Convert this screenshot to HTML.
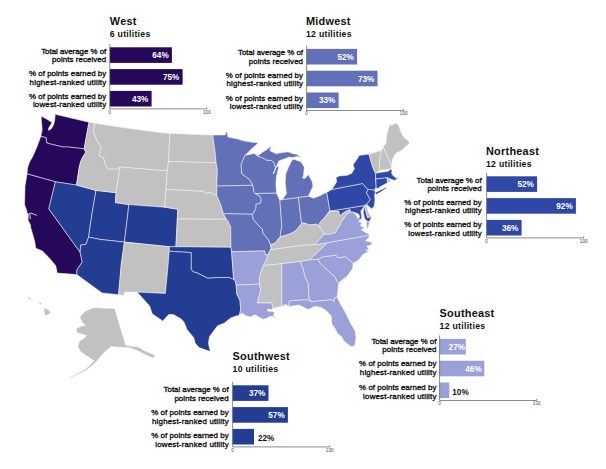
<!DOCTYPE html>
<html><head><meta charset="utf-8"><style>
html,body{margin:0;padding:0;background:#fff;}
body{width:606px;height:469px;overflow:hidden;position:relative;}
svg{position:absolute;left:0;top:0;}
text{font-family:"Liberation Sans",sans-serif;}
.t{font-weight:bold;font-size:10.9px;fill:#111;letter-spacing:0.25px;}
.s{font-weight:bold;font-size:8.7px;fill:#111;letter-spacing:0.28px;}
.l{font-weight:normal;font-size:7.9px;fill:#111;stroke:#111;stroke-width:0.34px;text-anchor:end;}
.v{font-weight:bold;font-size:8.2px;fill:#fff;text-anchor:end;}
.vo{font-weight:bold;font-size:8.2px;fill:#111;}
.a{font-size:4.6px;fill:#444;text-anchor:middle;}
</style></head><body>
<svg width="606" height="469" viewBox="0 0 606 469">

<g stroke="#f4f4f4" stroke-width="0.55" stroke-linejoin="round">
<polygon fill="#26085a" points="41.1,116.1 47.0,119.3 52.0,122.5 50.5,125.0 48.5,128.5 48.6,130.5 51.5,128.6 53.6,124.9 54.6,120.7 55.2,115.3 54.1,114.0 89.0,122.2 85.5,141.0 84.2,148.8 68.6,147.0 63.3,147.0 52.7,144.6 46.8,143.0 46.1,137.7 40.8,136.4 42.2,129.8 41.5,121.9"/>
<polygon fill="#26085a" points="40.8,136.4 46.1,137.7 46.8,143.0 52.7,144.6 63.3,147.0 68.6,147.0 84.2,148.8 85.7,152.2 81.8,158.8 80.4,162.6 79.1,167.9 76.5,185.1 55.4,181.8 27.0,173.9 27.6,167.9 29.5,162.0 32.5,157.0 36.9,147.0"/>
<polygon fill="#26085a" points="27.0,173.9 55.4,181.8 48.8,208.8 80.1,252.2 82.2,261.9 77.0,269.8 76.8,274.5 57.2,273.1 55.8,265.8 49.2,257.9 42.4,250.9 35.8,248.3 34.5,240.4 30.6,227.2 30.5,225.0 28.0,219.9 28.4,215.7 27.5,213.5 26.3,209.3 24.6,205.0 25.0,186.4"/>
<polygon fill="#233d92" points="55.4,181.8 76.5,185.1 96.0,190.4 92.6,210.0 90.3,225.0 88.6,237.1 86.0,244.3 80.7,245.0 80.1,252.2 48.8,208.8"/>
<polygon fill="#233d92" points="96.0,190.4 116.0,192.7 115.4,202.6 128.8,204.6 127.7,215.0 124.4,242.1 100.0,239.4 88.6,237.1 90.3,225.0 92.6,210.0"/>
<polygon fill="#233d92" points="88.6,237.1 100.0,239.4 124.4,242.1 121.2,265.0 118.6,294.7 102.0,292.9 76.8,274.5 77.0,269.8 82.2,261.9 80.1,252.2 80.7,245.0 86.0,244.3"/>
<polygon fill="#c1c1c1" points="89.0,122.2 94.9,123.2 93.6,131.8 96.9,140.4 101.5,147.0 98.9,155.6 103.5,157.5 105.5,165.0 108.1,169.0 117.3,169.0 120.0,167.0 116.0,192.7 96.0,190.4 76.5,185.1 79.1,167.9 80.4,162.6 81.8,158.8 85.7,152.2 84.2,148.8 85.5,141.0"/>
<polygon fill="#c1c1c1" points="94.9,123.2 124.6,127.8 144.4,130.5 160.0,132.5 169.9,133.4 168.6,161.5 167.3,170.3 165.0,170.8 120.0,167.0 117.3,169.0 108.1,169.0 105.5,165.0 103.5,157.5 98.9,155.6 101.5,147.0 96.9,140.4 93.6,131.8"/>
<polygon fill="#c1c1c1" points="120.0,167.0 165.0,170.8 167.3,170.3 166.0,189.4 164.6,207.2 128.8,204.6 115.4,202.6 116.0,192.7"/>
<polygon fill="#233d92" points="128.8,204.6 164.6,207.2 177.8,209.2 177.3,219.0 175.9,246.7 169.3,246.7 124.4,242.1 127.7,215.0"/>
<polygon fill="#c1c1c1" points="124.4,242.1 169.3,246.7 169.3,250.6 168.1,265.0 165.4,293.4 137.1,292.1 124.5,292.1 123.9,295.4 118.6,294.7 121.2,265.0"/>
<polygon fill="#c1c1c1" points="169.9,133.4 212.8,135.1 215.4,154.2 216.1,162.8 168.6,161.5"/>
<polygon fill="#c1c1c1" points="168.6,161.5 216.1,162.8 217.4,169.0 216.8,186.1 216.8,195.4 210.2,192.5 206.2,193.4 203.6,191.4 166.0,189.4 167.3,170.3"/>
<polygon fill="#c1c1c1" points="166.0,189.4 203.6,191.4 206.2,193.4 210.2,192.5 216.8,195.4 220.7,204.6 223.4,213.8 226.5,219.3 177.3,219.0 177.8,209.2 164.6,207.2"/>
<polygon fill="#c1c1c1" points="177.3,219.0 226.5,219.3 228.1,221.0 230.7,226.9 230.9,240.0 231.0,247.3 175.9,246.7"/>
<polygon fill="#233d92" points="169.3,246.7 175.9,246.7 231.0,247.3 231.6,251.8 233.6,278.8 234.8,279.8 228.8,277.5 219.6,277.5 207.7,278.2 197.2,272.9 193.1,271.8 191.1,269.1 191.1,252.6 170.0,251.3 169.3,250.6"/>
<polygon fill="#233d92" points="169.3,250.6 170.0,251.3 191.1,252.6 191.1,269.1 193.1,271.8 197.2,272.9 207.7,278.2 219.6,277.5 228.8,277.5 234.8,279.8 236.2,285.2 236.8,294.0 240.0,300.6 240.7,309.9 239.4,315.2 236.0,315.9 230.7,317.9 224.1,323.2 217.5,325.8 213.6,331.1 209.6,336.4 208.3,343.0 210.3,351.6 199.0,347.6 195.1,343.0 193.8,337.7 187.2,329.8 184.0,322.0 181.3,319.1 173.4,314.5 168.7,314.5 162.8,321.1 152.2,313.8 149.6,305.9 137.1,292.1 165.4,293.4 168.1,265.0"/>
<polygon fill="#6270b7" points="212.8,135.1 225.3,134.9 225.9,132.3 227.3,132.3 227.9,136.9 237.2,138.9 243.8,140.8 251.7,142.2 258.3,142.8 251.7,148.8 245.1,155.4 244.4,156.7 241.1,164.6 241.8,173.8 249.0,179.1 250.1,180.0 252.7,185.3 225.0,185.9 216.8,186.1 217.4,169.0 216.1,162.8 215.4,154.2"/>
<polygon fill="#6270b7" points="245.1,155.4 254.3,153.4 257.6,156.0 264.9,158.7 266.0,160.1 271.3,160.3 274.0,162.5 274.8,165.7 275.6,167.3 276.7,165.7 278.8,167.8 277.7,171.0 276.7,175.3 276.1,180.0 275.9,184.3 276.5,193.2 255.0,193.5 254.0,192.5 252.7,185.3 250.1,180.0 249.0,179.1 241.8,173.8 241.1,164.6 244.4,156.7"/>
<polygon fill="#6270b7" points="257.6,156.0 262.0,152.5 266.7,149.8 271.3,145.8 269.8,150.6 275.9,153.8 281.0,152.8 287.8,151.8 293.1,153.8 297.0,154.4 300.3,157.1 297.0,156.6 291.8,157.5 288.9,157.1 286.3,158.2 282.0,159.8 278.8,160.9 276.7,165.7 275.6,167.3 274.8,165.7 274.0,162.5 271.3,160.3 266.0,160.1 264.9,158.7"/>
<polygon fill="#6270b7" points="216.8,186.1 225.0,185.9 252.7,185.3 254.0,192.5 255.0,193.5 259.3,195.8 261.3,199.1 260.6,203.1 256.0,204.4 256.0,208.4 253.4,213.0 252.1,214.3 225.0,213.7 223.4,213.8 220.7,204.6 216.8,195.4"/>
<polygon fill="#6270b7" points="223.4,213.8 225.0,213.7 252.1,214.3 253.4,219.6 259.3,226.2 262.6,229.5 263.0,233.0 268.6,240.0 270.5,244.5 271.2,248.5 270.5,249.8 268.0,254.5 265.3,255.1 264.6,250.9 231.6,251.8 231.0,247.3 230.9,240.0 230.7,226.9 228.1,221.0 226.5,219.3"/>
<polygon fill="#6270b7" points="255.0,193.5 276.5,193.2 277.3,195.0 279.9,200.3 281.8,226.2 280.4,234.1 280.4,236.8 279.1,237.9 277.1,240.6 275.2,243.2 271.2,244.5 270.5,244.5 268.6,240.0 263.0,233.0 262.6,229.5 259.3,226.2 253.4,219.6 252.1,214.3 253.4,213.0 256.0,208.4 256.0,204.4 260.6,203.1 261.3,199.1 259.3,195.8"/>
<polygon fill="#6270b7" points="279.9,200.3 282.5,199.5 298.4,197.5 301.6,223.6 296.3,230.2 291.0,233.5 285.7,235.4 280.4,236.8 280.4,234.1 281.8,226.2"/>
<polygon fill="#6270b7" points="282.5,199.5 286.5,193.6 285.2,183.0 285.8,173.8 288.5,167.2 291.8,160.6 293.8,159.2 301.0,161.9 304.3,167.2 303.5,175.5 302.5,178.0 305.0,178.5 308.3,174.4 312.2,181.7 312.9,186.3 309.6,193.6 308.3,196.2 298.4,197.5"/>
<polygon fill="#6270b7" points="298.4,197.5 308.3,196.2 313.6,198.2 320.2,195.5 326.8,192.2 329.9,210.7 329.5,211.1 324.4,217.9 321.0,221.3 318.4,225.6 316.1,224.2 309.5,224.9 303.6,222.9 301.6,223.6"/>
<polygon fill="#c1c1c1" points="270.5,244.5 271.2,244.5 275.2,243.2 277.1,240.6 279.1,237.9 280.4,236.8 285.7,235.4 291.0,233.5 296.3,230.2 301.6,223.6 303.6,222.9 309.5,224.9 316.1,224.2 318.4,225.6 321.5,229.5 324.4,234.1 316.1,243.4 314.8,244.7 305.0,245.2 293.6,246.5 280.4,248.5 270.5,249.8 271.2,248.5"/>
<polygon fill="#c1c1c1" points="270.5,249.8 280.4,248.5 293.6,246.5 305.0,245.2 314.8,244.7 327.3,242.7 321.4,248.7 312.2,257.2 309.5,259.9 300.3,261.5 281.8,263.7 263.3,265.6 265.9,260.4 268.0,254.5"/>
<polygon fill="#9aa0d8" points="231.6,251.8 264.6,250.9 265.3,255.1 268.0,254.5 265.9,260.4 263.3,265.6 260.6,273.6 259.3,278.8 259.6,284.1 236.2,285.2 234.8,279.8 233.6,278.8"/>
<polygon fill="#9aa0d8" points="236.2,285.2 259.6,284.1 260.7,290.6 257.3,302.8 271.8,302.8 273.0,308.6 272.6,308.6 271.8,309.4 268.0,309.0 267.2,311.1 272.6,311.5 274.7,312.7 273.4,315.6 277.1,319.3 273.0,316.5 269.7,316.5 267.2,318.1 263.1,319.3 259.0,316.9 254.9,314.8 250.7,316.9 245.0,315.6 243.3,313.6 240.0,314.0 239.4,315.2 240.7,309.9 240.0,300.6 236.8,294.0"/>
<polygon fill="#c1c1c1" points="263.3,265.6 281.8,263.7 281.9,306.4 278.0,307.0 275.5,307.4 273.0,308.6 271.8,302.8 257.3,302.8 260.7,290.6 259.6,284.1 259.3,278.8 260.6,273.6"/>
<polygon fill="#9aa0d8" points="281.8,263.7 300.3,261.5 303.6,270.0 304.9,276.6 308.2,283.2 308.9,297.7 311.5,301.7 307.6,299.8 295.0,300.4 289.1,301.1 289.1,306.4 285.2,304.4 281.9,306.4"/>
<polygon fill="#9aa0d8" points="300.3,261.5 309.5,259.9 318.1,259.2 320.1,263.2 327.3,270.0 334.6,276.6 338.6,283.2 337.9,289.8 337.2,297.1 334.6,297.7 333.9,301.7 332.0,299.7 311.5,301.7 308.9,297.7 308.2,283.2 304.9,276.6 303.6,270.0"/>
<polygon fill="#9aa0d8" points="289.1,301.1 295.0,300.4 307.6,299.8 311.5,301.7 332.0,299.7 333.9,301.7 334.6,297.7 337.2,297.1 339.9,303.0 345.2,312.2 346.6,315.0 349.1,320.2 351.6,324.9 355.0,330.8 356.0,337.8 354.6,345.7 351.6,346.7 348.6,344.7 343.7,340.7 341.7,336.8 337.7,333.8 334.8,327.9 331.8,323.9 331.3,316.0 326.7,310.9 321.4,307.6 314.8,306.3 308.2,309.6 300.3,305.6 298.4,305.1 289.1,306.4"/>
<polygon fill="#9aa0d8" points="318.1,259.2 323.4,256.6 335.9,255.3 338.6,257.9 345.2,256.6 353.1,263.2 352.6,268.4 350.2,271.9 346.7,276.6 342.5,279.6 338.6,283.2 334.6,276.6 327.3,270.0 320.1,263.2"/>
<polygon fill="#9aa0d8" points="309.5,259.9 312.2,257.2 321.4,248.7 327.3,242.7 367.6,235.5 369.6,236.7 365.5,240.8 372.5,242.6 370.2,245.5 366.7,246.1 369.0,249.6 365.5,250.2 369.0,251.4 363.1,254.3 358.4,260.2 353.1,263.2 345.2,256.6 338.6,257.9 335.9,255.3 323.4,256.6 318.1,259.2"/>
<polygon fill="#9aa0d8" points="324.4,234.1 330.4,234.1 335.5,232.4 337.2,229.0 339.7,225.6 341.4,221.3 343.1,219.6 344.9,216.2 347.4,213.6 350.8,212.0 353.5,212.3 357.0,216.5 357.8,218.3 361.2,219.6 358.6,221.3 362.0,223.0 360.3,225.6 364.6,228.1 361.2,229.8 365.5,232.4 368.9,234.1 369.5,235.4 367.6,235.5 327.3,242.7 314.8,244.7 316.1,243.4"/>
<polygon fill="#c1c1c1" points="318.4,225.6 321.0,221.3 324.4,217.9 329.5,211.1 338.9,211.1 339.7,215.8 343.1,212.8 347.4,210.2 350.0,209.4 350.8,212.0 347.4,213.6 344.9,216.2 343.1,219.6 341.4,221.3 339.7,225.6 337.2,229.0 335.5,232.4 330.4,234.1 324.4,234.1 321.5,229.5"/>
<polygon fill="#2f48a6" points="333.5,210.5 364.6,205.5 363.5,207.5 360.8,211.1 361.6,216.2 361.2,219.6 357.8,218.3 359.9,217.0 358.6,214.1 353.5,212.0 350.8,212.0 350.0,209.4 347.4,210.2 343.1,212.8 339.7,215.8 338.9,211.1 329.9,211.1"/>
<polygon fill="#2f48a6" points="364.3,206.5 364.8,207.0 367.5,217.6 371.5,216.6 369.5,221.6 366.5,221.0 364.5,218.0 363.2,212.5"/>
<polygon fill="#9aa0d8" points="366.5,221.0 369.5,221.6 368.2,227.5 366.8,228.8"/>
<polygon fill="#c1c1c1" points="364.6,205.5 366.5,204.3 368.5,212.7 371.5,216.6 367.5,217.6 364.8,207.0"/>
<polygon fill="#2f48a6" points="326.8,192.2 331.9,189.4 362.6,183.5 366.5,187.9 368.0,189.4 366.5,192.9 370.5,199.8 366.5,204.3 364.6,205.5 333.5,210.5 329.9,210.7"/>
<polygon fill="#2f48a6" points="368.0,189.4 374.5,189.9 375.4,193.0 374.5,194.9 375.0,199.8 374.0,206.7 371.5,208.7 366.5,204.3 370.5,199.8 366.5,192.9"/>
<polygon fill="#2f48a6" points="331.9,189.4 336.7,181.7 336.0,177.7 339.2,175.9 347.2,175.3 351.8,173.3 354.4,168.7 353.1,164.7 357.7,158.1 359.0,155.5 368.9,154.1 372.2,165.4 374.2,170.6 375.5,173.3 375.5,178.6 376.2,187.1 374.9,189.1 374.5,189.9 368.0,189.4 366.5,187.9 362.6,183.5"/>
<polygon fill="#2f48a6" points="375.3,192.6 380.0,190.3 385.6,187.6 386.8,188.0 381.0,191.8 376.2,194.6"/>
<polygon fill="#c1c1c1" points="368.9,154.1 381.5,150.5 380.8,154.8 379.5,161.4 379.5,170.6 375.5,173.3 374.2,170.6 372.2,165.4"/>
<polygon fill="#c1c1c1" points="381.5,150.5 383.3,146.7 386.8,154.8 390.1,162.7 391.4,168.0 390.7,168.7 379.5,170.6 379.5,161.4 380.8,154.8"/>
<polygon fill="#c1c1c1" points="383.3,146.7 386.2,142.7 386.7,134.8 388.7,127.9 389.7,123.9 391.7,125.4 395.6,122.9 398.6,124.9 401.6,133.8 404.6,138.3 408.5,140.7 409.5,143.7 406.5,145.7 403.6,148.7 399.6,151.6 396.6,152.6 393.7,156.6 392.2,160.0 391.4,168.0 390.1,162.7 386.8,154.8"/>
<polygon fill="#2f48a6" points="375.5,173.3 379.5,172.6 388.5,171.2 391.0,168.7 392.0,170.8 391.5,172.8 392.6,175.3 396.3,178.2 398.8,177.0 397.5,178.8 394.0,180.4 393.0,179.9 390.5,179.0 387.2,177.8 375.7,179.0"/>
<polygon fill="#2f48a6" points="375.7,179.0 387.2,177.8 387.6,182.7 382.3,185.6 376.9,188.9 376.2,187.5"/>
<polygon fill="#c1c1c1" points="387.2,177.8 390.5,179.0 390.1,181.9 387.6,182.7"/>
<polygon fill="#c1c1c1" points="85.6,311.1 93.3,307.7 114.6,308.5 125.7,345.2 130.0,346.1 138.5,346.9 145.3,351.2 155.6,355.5 153.0,358.0 145.3,354.6 136.8,350.3 128.3,347.5 116.3,347.0 111.2,346.5 107.8,349.5 104.5,352.0 101.0,356.0 96.5,361.4 91.0,366.6 85.6,370.5 77.1,374.7 68.5,378.8 68.3,378.2 77.0,373.8 85.0,369.3 90.0,365.3 94.0,360.5 92.0,359.5 88.2,356.8 85.6,355.2 80.5,351.5 77.9,346.3 79.6,341.0 83.9,338.4 86.5,335.5 77.1,332.8 76.2,328.5 82.2,326.0 85.6,325.6 82.2,322.2 79.6,317.1"/>
<polygon fill="#c1c1c1" points="44.4,307.8 48.4,309.8 51.0,312.5 47.1,315.1 45.1,315.8 44.1,311.8"/>
<polygon fill="#c1c1c1" points="28.3,297.0 29.8,297.5 30.8,299.3 29.5,299.6 28.2,298.5"/>
<polygon fill="#c1c1c1" points="38.2,301.7 40.5,302.5 42.0,303.9 40.5,304.3 38.8,303.0"/>
</g>
<g fill="none" stroke="#fff" stroke-width="0.8" stroke-linecap="round"><polyline points="28.2,214.5 30.3,213 33,213.8 36.3,215.3"/><polyline points="29.8,213.8 30.3,218.8"/><polyline stroke-width="1.1" points="276,167.2 274.8,170.5 273.4,173.4"/></g>
<text class="t" x="109.8" y="24.7">West</text>
<text class="s" x="109.8" y="36.6">6 utilities</text>
<rect x="109.8" y="47.3" width="62.1" height="15.6" fill="#26085a"/>
<text class="v" x="168.7" y="58.2">64%</text>
<text class="l" x="106.2" y="53.5" textLength="65.0" lengthAdjust="spacing">Total average % of</text>
<text class="l" x="106.2" y="62.0" textLength="54.2" lengthAdjust="spacing">points received</text>
<rect x="109.8" y="69.1" width="72.8" height="15.6" fill="#26085a"/>
<text class="v" x="179.4" y="80.0">75%</text>
<text class="l" x="106.2" y="76.2" textLength="77.3" lengthAdjust="spacing">% of points earned by</text>
<text class="l" x="106.2" y="84.7" textLength="76.6" lengthAdjust="spacing">highest-ranked utility</text>
<rect x="109.8" y="90.9" width="41.8" height="15.6" fill="#26085a"/>
<text class="v" x="148.4" y="101.8">43%</text>
<text class="l" x="106.2" y="98.9" textLength="77.3" lengthAdjust="spacing">% of points earned by</text>
<text class="l" x="106.2" y="107.4" textLength="73.3" lengthAdjust="spacing">lowest-ranked utility</text>
<line x1="109.8" y1="43.8" x2="109.8" y2="108.9" stroke="#666" stroke-width="0.75"/>
<line x1="109.8" y1="108.9" x2="206.9" y2="108.9" stroke="#666" stroke-width="0.75"/>
<line x1="206.9" y1="107.4" x2="206.9" y2="108.9" stroke="#666" stroke-width="0.75"/>
<text class="a" x="109.8" y="113.8">0</text>
<text class="a" x="206.9" y="113.8">100</text>
<text class="t" x="306.0" y="24.9">Midwest</text>
<text class="s" x="306.0" y="36.8">12 utilities</text>
<rect x="306.6" y="48.9" width="50.5" height="15.6" fill="#6270b7"/>
<text class="v" x="353.9" y="59.8">52%</text>
<text class="l" x="303.0" y="55.0" textLength="65.0" lengthAdjust="spacing">Total average % of</text>
<text class="l" x="303.0" y="63.5" textLength="54.2" lengthAdjust="spacing">points received</text>
<rect x="306.6" y="70.7" width="70.9" height="15.6" fill="#6270b7"/>
<text class="v" x="374.3" y="81.6">73%</text>
<text class="l" x="303.0" y="77.9" textLength="77.3" lengthAdjust="spacing">% of points earned by</text>
<text class="l" x="303.0" y="86.4" textLength="76.6" lengthAdjust="spacing">highest-ranked utility</text>
<rect x="306.6" y="92.5" width="32.0" height="15.6" fill="#6270b7"/>
<text class="v" x="335.4" y="103.4">33%</text>
<text class="l" x="303.0" y="100.7" textLength="77.3" lengthAdjust="spacing">% of points earned by</text>
<text class="l" x="303.0" y="109.2" textLength="73.3" lengthAdjust="spacing">lowest-ranked utility</text>
<line x1="306.6" y1="45.4" x2="306.6" y2="110.5" stroke="#666" stroke-width="0.75"/>
<line x1="306.6" y1="110.5" x2="403.7" y2="110.5" stroke="#666" stroke-width="0.75"/>
<line x1="403.7" y1="109.0" x2="403.7" y2="110.5" stroke="#666" stroke-width="0.75"/>
<text class="a" x="306.6" y="115.4">0</text>
<text class="a" x="403.7" y="115.4">100</text>
<text class="t" x="486.0" y="154.9">Northeast</text>
<text class="s" x="486.0" y="166.8">12 utilities</text>
<rect x="486.6" y="176.3" width="50.5" height="15.6" fill="#2f48a6"/>
<text class="v" x="533.9" y="187.2">52%</text>
<text class="l" x="481.6" y="182.5" textLength="65.0" lengthAdjust="spacing">Total average % of</text>
<text class="l" x="481.6" y="191.0" textLength="54.2" lengthAdjust="spacing">points received</text>
<rect x="486.6" y="198.1" width="89.3" height="15.6" fill="#2f48a6"/>
<text class="v" x="572.7" y="209.0">92%</text>
<text class="l" x="481.6" y="204.9" textLength="77.3" lengthAdjust="spacing">% of points earned by</text>
<text class="l" x="481.6" y="213.4" textLength="76.6" lengthAdjust="spacing">highest-ranked utility</text>
<rect x="486.6" y="219.9" width="35.0" height="15.6" fill="#2f48a6"/>
<text class="v" x="518.4" y="230.8">36%</text>
<text class="l" x="481.6" y="227.3" textLength="77.3" lengthAdjust="spacing">% of points earned by</text>
<text class="l" x="481.6" y="235.8" textLength="73.3" lengthAdjust="spacing">lowest-ranked utility</text>
<line x1="486.6" y1="172.8" x2="486.6" y2="237.9" stroke="#666" stroke-width="0.75"/>
<line x1="486.6" y1="237.9" x2="583.7" y2="237.9" stroke="#666" stroke-width="0.75"/>
<line x1="583.7" y1="236.4" x2="583.7" y2="237.9" stroke="#666" stroke-width="0.75"/>
<text class="a" x="486.6" y="242.8">0</text>
<text class="a" x="583.7" y="242.8">100</text>
<text class="t" x="439.6" y="316.7">Southeast</text>
<text class="s" x="439.6" y="328.6">12 utilities</text>
<rect x="439.6" y="338.9" width="26.2" height="15.6" fill="#9aa0d8"/>
<text class="v" x="465.0" y="349.8">27%</text>
<text class="l" x="436.4" y="343.8" textLength="65.0" lengthAdjust="spacing">Total average % of</text>
<text class="l" x="436.4" y="352.3" textLength="54.2" lengthAdjust="spacing">points received</text>
<rect x="439.6" y="360.7" width="44.7" height="15.6" fill="#9aa0d8"/>
<text class="v" x="481.7" y="371.6">46%</text>
<text class="l" x="436.4" y="366.2" textLength="77.3" lengthAdjust="spacing">% of points earned by</text>
<text class="l" x="436.4" y="374.7" textLength="76.6" lengthAdjust="spacing">highest-ranked utility</text>
<rect x="439.6" y="382.5" width="9.7" height="15.6" fill="#9aa0d8"/>
<text class="vo" x="452.3" y="394.6">10%</text>
<text class="l" x="436.4" y="390.1" textLength="77.3" lengthAdjust="spacing">% of points earned by</text>
<text class="l" x="436.4" y="398.6" textLength="73.3" lengthAdjust="spacing">lowest-ranked utility</text>
<line x1="439.6" y1="335.4" x2="439.6" y2="400.5" stroke="#666" stroke-width="0.75"/>
<line x1="439.6" y1="400.5" x2="536.7" y2="400.5" stroke="#666" stroke-width="0.75"/>
<line x1="536.7" y1="399.0" x2="536.7" y2="400.5" stroke="#666" stroke-width="0.75"/>
<text class="a" x="439.6" y="405.4">0</text>
<text class="a" x="536.7" y="405.4">100</text>
<text class="t" x="232.6" y="359.9">Southwest</text>
<text class="s" x="232.6" y="371.8">10 utilities</text>
<rect x="232.6" y="385.3" width="35.9" height="15.6" fill="#233d92"/>
<text class="v" x="265.3" y="396.2">37%</text>
<text class="l" x="228.6" y="392.2" textLength="65.0" lengthAdjust="spacing">Total average % of</text>
<text class="l" x="228.6" y="400.7" textLength="54.2" lengthAdjust="spacing">points received</text>
<rect x="232.6" y="407.1" width="55.3" height="15.6" fill="#233d92"/>
<text class="v" x="284.7" y="418.0">57%</text>
<text class="l" x="228.6" y="415.1" textLength="77.3" lengthAdjust="spacing">% of points earned by</text>
<text class="l" x="228.6" y="423.6" textLength="76.6" lengthAdjust="spacing">highest-ranked utility</text>
<rect x="232.6" y="428.9" width="21.4" height="15.6" fill="#233d92"/>
<text class="vo" x="258.0" y="441.0">22%</text>
<text class="l" x="228.6" y="438.3" textLength="77.3" lengthAdjust="spacing">% of points earned by</text>
<text class="l" x="228.6" y="446.8" textLength="73.3" lengthAdjust="spacing">lowest-ranked utility</text>
<line x1="232.6" y1="381.8" x2="232.6" y2="446.9" stroke="#666" stroke-width="0.75"/>
<line x1="232.6" y1="446.9" x2="329.7" y2="446.9" stroke="#666" stroke-width="0.75"/>
<line x1="329.7" y1="445.4" x2="329.7" y2="446.9" stroke="#666" stroke-width="0.75"/>
<text class="a" x="232.6" y="451.8">0</text>
<text class="a" x="329.7" y="451.8">100</text>
</svg></body></html>
